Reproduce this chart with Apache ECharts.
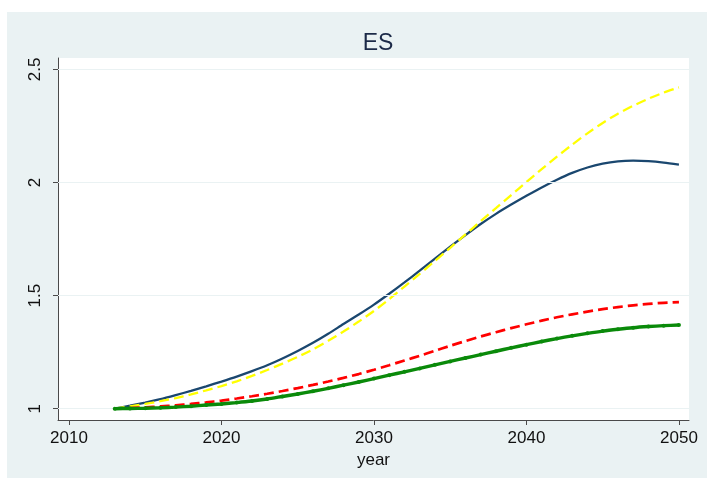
<!DOCTYPE html>
<html>
<head>
<meta charset="utf-8">
<script src="https://cdn.jsdelivr.net/npm/echarts@6/dist/echarts.min.js"></script>
<style>
  html, body { margin: 0; padding: 0; background: #ffffff; }
  #chart { width: 717px; height: 484px; }
</style>
</head>
<body>
<div id="chart"></div>
<script>
// Years covered by the projection
const years = [2013, 2014, 2015, 2016, 2017, 2018, 2019, 2020, 2021, 2022,
  2023, 2024, 2025, 2026, 2027, 2028, 2029, 2030, 2031, 2032,
  2033, 2034, 2035, 2036, 2037, 2038, 2039, 2040, 2041, 2042,
  2043, 2044, 2045, 2046, 2047, 2048, 2049, 2050];

// Navy solid line
const navySeries = [1.000, 1.013, 1.027, 1.042, 1.060, 1.079, 1.099, 1.120, 1.142, 1.166,
  1.192, 1.222, 1.255, 1.291, 1.331, 1.374, 1.416, 1.460, 1.508, 1.558,
  1.610, 1.663, 1.716, 1.767, 1.816, 1.861, 1.902, 1.941, 1.978, 2.012,
  2.042, 2.066, 2.083, 2.093, 2.096, 2.094, 2.088, 2.079];

// Yellow dashed line
const yellowSeries = [1.000, 1.010, 1.021, 1.033, 1.047, 1.063, 1.081, 1.100, 1.121, 1.145,
  1.171, 1.199, 1.229, 1.262, 1.300, 1.341, 1.385, 1.432, 1.484, 1.540,
  1.596, 1.653, 1.711, 1.770, 1.829, 1.886, 1.944, 2.002, 2.059, 2.114,
  2.167, 2.217, 2.263, 2.304, 2.339, 2.370, 2.397, 2.420];

// Red dashed line
const redSeries = [1.000, 1.003, 1.006, 1.010, 1.015, 1.021, 1.028, 1.036, 1.045, 1.055,
  1.066, 1.078, 1.091, 1.105, 1.120, 1.136, 1.153, 1.172, 1.192, 1.213,
  1.234, 1.256, 1.278, 1.299, 1.319, 1.338, 1.356, 1.373, 1.389, 1.404,
  1.417, 1.429, 1.440, 1.449, 1.457, 1.463, 1.468, 1.471];

// Green connected line
const greenSeries = [1.000, 1.001, 1.002, 1.004, 1.007, 1.011, 1.016, 1.021, 1.027, 1.034,
  1.043, 1.054, 1.065, 1.077, 1.090, 1.104, 1.118, 1.133, 1.148, 1.163,
  1.178, 1.194, 1.209, 1.224, 1.239, 1.254, 1.269, 1.283, 1.297, 1.310,
  1.322, 1.333, 1.343, 1.351, 1.358, 1.363, 1.367, 1.370];

// Axis tick labels
const xTicks = [2010, 2020, 2030, 2040, 2050];
const yTicks = [1, 1.5, 2, 2.5];

const pair = (vals) => years.map((y, i) => [y, vals[i]]);

const chart = echarts.init(document.getElementById('chart'), null, { renderer: 'canvas' });

const axisColor = '#4a4a4a';
const labelFont = { fontFamily: 'Liberation Sans, Arial, sans-serif', fontSize: 17, color: '#111111' };

chart.setOption({
  animation: false,
  backgroundColor: '#ffffff',
  graphic: [{
    type: 'rect',
    z: -10,
    shape: { x: 7, y: 12, width: 700, height: 466 },
    style: { fill: '#eaf2f3' }
  }],
  title: {
    text: 'ES',
    left: 373,
    top: 27,
    textAlign: 'center',
    textStyle: { fontFamily: 'Liberation Sans, Arial, sans-serif', fontSize: 23, fontWeight: 'normal', color: '#1c2a48' }
  },
  grid: {
    left: 58, right: 28, top: 58, bottom: 64,
    show: true, backgroundColor: '#ffffff', borderWidth: 0
  },
  xAxis: {
    type: 'value',
    min: 2009.28, max: 2050.66,
    name: 'year',
    nameLocation: 'middle',
    nameGap: 30,
    nameTextStyle: labelFont,
    axisLine: { show: true, onZero: false, lineStyle: { color: axisColor, width: 1 } },
    axisTick: { show: true, length: 5, customValues: xTicks, lineStyle: { color: axisColor } },
    axisLabel: { customValues: xTicks, margin: 10, ...labelFont, formatter: (v) => String(v) },
    splitLine: { show: false }
  },
  yAxis: {
    type: 'value',
    min: 0.95, max: 2.55,
    axisLine: { show: true, onZero: false, lineStyle: { color: axisColor, width: 1 } },
    axisTick: { show: true, length: 5, customValues: yTicks, lineStyle: { color: axisColor } },
    axisLabel: { customValues: yTicks, rotate: 90, margin: 14, ...labelFont, formatter: (v) => String(v) },
    splitLine: { show: false }
  },
  series: [
    {
      // horizontal grid lines at the y ticks
      type: 'line', data: [], silent: true, z: 1,
      markLine: {
        silent: true, symbol: 'none', label: { show: false },
        lineStyle: { color: '#eaf2f3', width: 1.2, type: 'solid' },
        data: yTicks.map(v => ({ yAxis: v }))
      }
    },
    {
      type: 'line', data: pair(navySeries), smooth: 0.25, showSymbol: false, z: 3,
      lineStyle: { color: '#1a476f', width: 2.3 }, itemStyle: { color: '#1a476f' }
    },
    {
      type: 'line', data: pair(yellowSeries), smooth: 0.25, showSymbol: false, z: 4,
      lineStyle: { color: '#ffff00', width: 2.3, type: [10, 5] }, itemStyle: { color: '#ffff00' }
    },
    {
      type: 'line', data: pair(redSeries), smooth: 0.25, showSymbol: false, z: 4,
      lineStyle: { color: '#ff0000', width: 2.7, type: [10, 5] }, itemStyle: { color: '#ff0000' }
    },
    {
      type: 'line', data: pair(greenSeries), smooth: 0.25,
      showSymbol: true, symbol: 'circle', symbolSize: 4, z: 5,
      lineStyle: { color: '#0a8a0a', width: 3.4 }, itemStyle: { color: '#0a8a0a' }
    }
  ]
});
</script>
</body>
</html>
